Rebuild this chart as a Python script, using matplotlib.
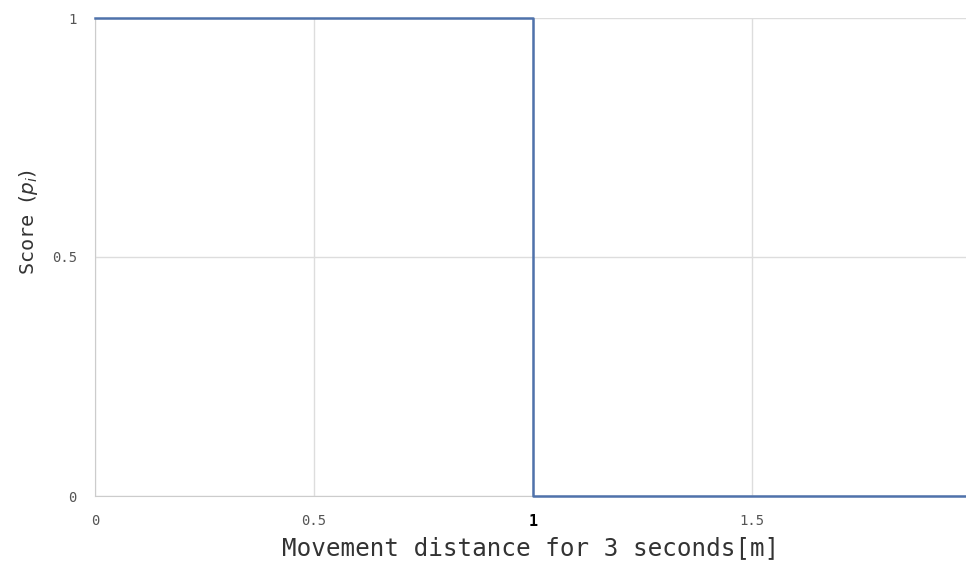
import numpy as np
import matplotlib.pyplot as plt

# step score: 1 below 1 m, 0 from 1 m
dist = [0, 1, 1, 1.99]
score = [1, 1, 0, 0]
xticks = [0, 0.5, 1, 1.5]
xlabels = ['0', '0.5', '1', '1.5']
yticks = [0, 0.5, 1]
ylabels = ['0', '0.5', '1']

fig = plt.figure(figsize=(9.66, 5.63), dpi=100)
ax = fig.add_axes([95/966, 67/563, 871/966, 478/563])

ax.plot(dist, score, color='#4f72ab', lw=1.8, clip_on=False, zorder=3)

ax.set_xlim(0, 871/438)
ax.set_ylim(0, 1)
ax.set_xticks(xticks)
ax.set_xticklabels(xlabels, family='DejaVu Sans Mono', fontsize=10, color='#555555')
ax.set_yticks(yticks)
ax.set_yticklabels(ylabels, family='DejaVu Sans Mono', fontsize=10, color='#555555')
ax.get_xticklabels()[2].set_color('black')
ax.get_xticklabels()[2].set_fontweight('bold')
ax.get_xticklabels()[2].set_fontsize(11)
ax.tick_params(axis='x', length=0, pad=13)
ax.tick_params(axis='y', length=0, pad=13)
ax.grid(color='#dddddd', lw=1)
ax.set_axisbelow(True)
for s in ['top', 'right']:
    ax.spines[s].set_visible(False)
for s in ['left', 'bottom']:
    ax.spines[s].set_color('#cccccc')

ax.set_xlabel('Movement distance for 3 seconds[m]', family='DejaVu Sans Mono',
              fontsize=17.5, color='#333333')
ax.xaxis.set_label_coords(0.5, -40/478)
ax.set_ylabel('Score $(p_i)$', family='DejaVu Sans Mono', fontsize=14.5,
              color='#333333')
ax.yaxis.set_label_coords(-55/871, 1 - 204/478)

fig.savefig('out.png', dpi=100)
